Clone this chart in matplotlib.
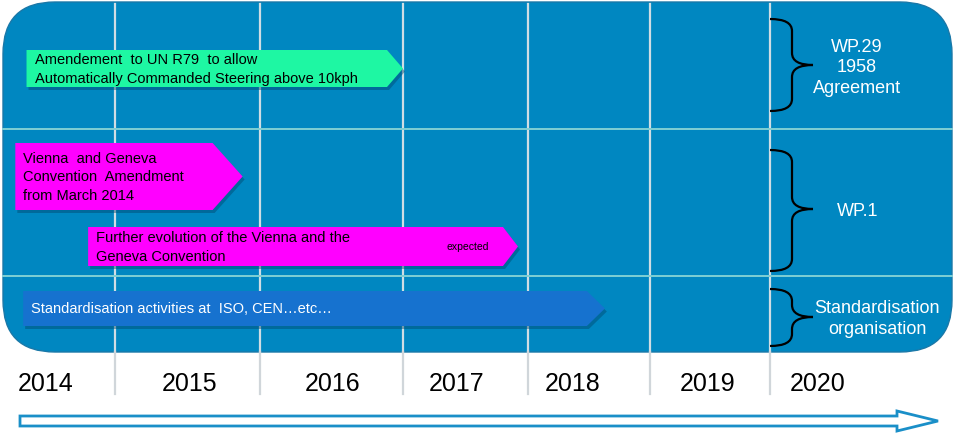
import matplotlib
matplotlib.use('Agg')
import matplotlib.pyplot as plt
from matplotlib.patches import FancyBboxPatch, Polygon, PathPatch
from matplotlib.path import Path
import numpy as np

plt.rcParams['font.family'] = ['Liberation Sans', 'DejaVu Sans']

# timeline data
years = ['2014', '2015', '2016', '2017', '2018', '2019', '2020']
year_edge_vals = [2014, 2015, 2016, 2017, 2018, 2019, 2020, 2021]

tasks = ['Amendement  to UN R79  to allow\nAutomatically Commanded Steering above 10kph',
         'Vienna  and Geneva\nConvention  Amendment\nfrom March 2014',
         'Further evolution of the Vienna and the\nGeneva Convention',
         'Standardisation activities at  ISO, CEN\u2026etc\u2026']
task_start = [2014.21, 2014.11, 2014.76, 2014.18]
task_end = [2017.0, 2015.88, 2017.92, 2018.63]
task_note = ['', '', 'expected', '']

groups = ['WP.29\n1958\nAgreement', 'WP.1', 'Standardisation\norganisation']

# layout (pixels)
W, H = 955, 435
edge_px = [3, 115, 260, 403, 528, 650, 770, 952]
label_px = [46, 190, 333, 457, 573, 708, 818]
row_lines = [130, 277]
box_top, box_bot = 3, 353
bar_y = [(51, 88), (144, 211), (228, 267), (292, 327)]
bar_col = ['#1ef7a3', '#ff00ff', '#ff00ff', '#1672cf']
txt_col = ['black', 'black', 'black', 'white']
tip_len = [16, 30, 15, 18]
brace_y = [(20, 112, 66), (151, 272, 210), (290, 347, 318)]
group_xy = [(857, 68), (858, 212), (877, 319)]

def yx(v):
    return np.interp(v, year_edge_vals, edge_px)

fig = plt.figure(figsize=(W / 100, H / 100), dpi=100)
ax = fig.add_axes([0, 0, 1, 1])
ax.set_xlim(0, W)
ax.set_ylim(H, 0)
ax.axis('off')

# background rounded box
box = FancyBboxPatch((edge_px[0], box_top), edge_px[-1] - edge_px[0],
                     box_bot - box_top, boxstyle='round,pad=0,rounding_size=52',
                     fc='#0087c1', ec='#1a78a8', lw=1, zorder=1)
ax.add_patch(box)

# grid lines
for x in edge_px[1:-1]:
    ax.plot([x, x], [box_top + 2, box_bot], color='#d0dde4', lw=1.6, zorder=2)
    ax.plot([x, x], [box_bot, 395], color='#d0d6da', lw=1.6, zorder=2)
for y in row_lines:
    ax.plot([edge_px[0], edge_px[-1]], [y, y], color='#7fcfd4', lw=1.4, zorder=2)

# year labels
for lab, x in zip(years, label_px):
    ax.text(x, 384, lab, ha='center', va='center', fontsize=18, color='black')

# task arrows
for i in range(len(tasks)):
    x0, x1 = yx(task_start[i]), yx(task_end[i])
    y0, y1 = bar_y[i]
    ym = (y0 + y1) / 2
    t = tip_len[i]
    pts = [(x0, y0), (x1 - t, y0), (x1, ym), (x1 - t, y1), (x0, y1)]
    sh = Polygon([(px + 2, py + 3) for px, py in pts], closed=True,
                 fc='#00476e', ec='none', alpha=0.45, zorder=3)
    ax.add_patch(sh)
    ax.add_patch(Polygon(pts, closed=True, fc=bar_col[i], ec='none', zorder=4))
    ax.text(x0 + 8, ym, tasks[i], ha='left', va='center', fontsize=10.5,
            color=txt_col[i], linespacing=1.4, zorder=5)
    if task_note[i]:
        ax.text(x1 - 50, ym, task_note[i], ha='center', va='center', fontsize=7.5,
                color='black', zorder=5)

# braces
def brace(ytop, ybot, ymid, xl=770, xs=792, xt=813, rr=12):
    c3 = [Path.MOVETO, Path.CURVE3, Path.CURVE3, Path.LINETO, Path.CURVE3, Path.CURVE3]
    up = [(xl, ytop), (xs, ytop), (xs, ytop + rr), (xs, ymid - rr), (xs, ymid), (xt, ymid)]
    lo = [(xt, ymid), (xs, ymid), (xs, ymid + rr), (xs, ybot - rr), (xs, ybot), (xl, ybot)]
    for v in (up, lo):
        ax.add_patch(PathPatch(Path(v, c3), fc='none', ec='black', lw=1.6, zorder=6))

for (yt, yb, ym), g, (gx, gy) in zip(brace_y, groups, group_xy):
    brace(yt, yb, ym)
    ax.text(gx, gy, g, ha='center', va='center', fontsize=13, color='white',
            linespacing=1.3, zorder=6)

# bottom hollow arrow
arr = [(20, 417), (897, 417), (897, 412), (938, 422), (897, 432), (897, 427), (20, 427)]
ax.add_patch(Polygon(arr, closed=True, fc='white', ec='#1a8fc8', lw=2, zorder=3))

fig.savefig('out.png', dpi=100)
